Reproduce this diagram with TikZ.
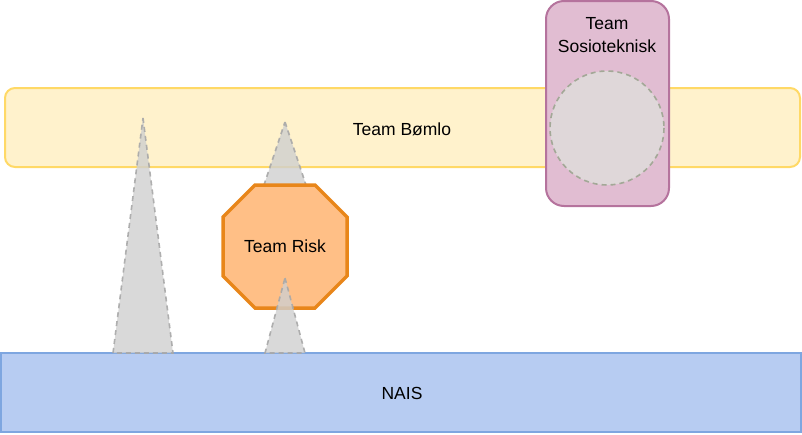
\documentclass[tikz,border=0pt]{standalone}
\usepackage{fontspec}
\setmainfont{Liberation Sans}
\definecolor{ybg}{HTML}{FFF2CC}
\definecolor{ybd}{HTML}{FFD966}
\definecolor{bbg}{HTML}{B7CCF2}
\definecolor{bbd}{HTML}{7EA6E0}
\definecolor{obg}{HTML}{FFBF86}
\definecolor{obd}{HTML}{E8861A}
\definecolor{pbg}{HTML}{E1BDD2}
\definecolor{pbd}{HTML}{B5739D}
\definecolor{cbg}{HTML}{DFD7D9}
\definecolor{cbd}{HTML}{A3A897}
\definecolor{tbg}{HTML}{CFCFCF}
\definecolor{tbd}{HTML}{A8A8A8}
\begin{document}
\begin{tikzpicture}[x=1pt,y=-1pt,
  lbl/.style={font=\fontsize{17.5}{23}\selectfont, align=center, text=black},
  tri/.style={fill=tbg, fill opacity=0.8, draw=tbd, draw opacity=0.9, dashed, dash pattern=on 5pt off 4pt, line width=1.6pt}]
\useasboundingbox (0,0) rectangle (802,434);
% Team Bomlo bar
\draw[fill=ybg, draw=ybd, line width=2pt, rounded corners=10pt] (5,88) rectangle (800,167);
\node[lbl] (bomlo) at (402,129) {Team Bømlo};
% NAIS
\draw[fill=bbg, draw=bbd, line width=2pt] (1,353) rectangle (801,432);
\node[lbl] (nais) at (402,393) {NAIS};
% triangles
\draw[tri] (143,118) -- (173,353) -- (113,353) -- cycle;
\draw[tri] (285,122) -- (306,185) -- (264,185) -- cycle;
% octagon Team Risk
\draw[fill=obg, draw=obd, line width=3.5pt, line join=miter]
  (255,185) -- (315,185) -- (347,217) -- (347,276) -- (315,308) -- (255,308) -- (223,276) -- (223,217) -- cycle;
\node[lbl] (risk) at (285,246) {Team Risk};
\draw[tri] (285,278) -- (305,353) -- (265,353) -- cycle;
% Team Sosioteknisk
\draw[fill=pbg, draw=pbd, line width=2pt, rounded corners=18pt] (546,1) rectangle (669,206);
\node[lbl] (sosio) at (607,35) {Team\\Sosioteknisk};
\draw[fill=cbg, draw=cbd, line width=1.6pt, dashed, dash pattern=on 5pt off 4pt] (607,128) circle (57);
\end{tikzpicture}
\end{document}
